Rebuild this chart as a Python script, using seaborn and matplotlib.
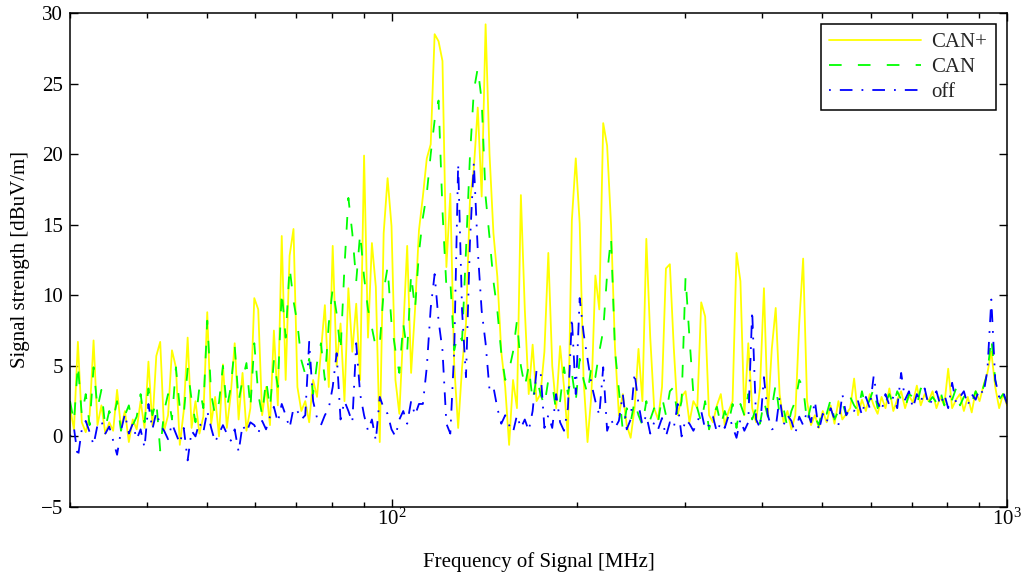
import numpy as np
import pandas as pd
import matplotlib
matplotlib.use("Agg")
import matplotlib.pyplot as plt
from matplotlib.ticker import LogLocator, NullFormatter, MultipleLocator
import seaborn as sns

# Frequency sweep, 30 MHz .. 1 GHz, 240 log-spaced points
freq_mhz = np.geomspace(30, 1000, 240)

# Field strength with CAN bus active and terminated ("CAN+")
can_plus = [
    2.0, 0.5, 6.7, 1.0, 0.3, 1.5, 6.8, 0.8, 2.2, 0.2, 1.0, 0.4, 3.3, 0.6, 1.8, -0.4, 1.2, 0.5, 2.5, 0.6,
    5.3, 0.8, 5.7, 6.7, 0.4, 1.5, 6.1, 4.9, -0.6, 1.8, 7.0, 0.6, 2.5, 0.2, 1.4, 8.8, 0.9, 2.8, 0.0, 5.1,
    0.6, 3.0, 6.6, 1.2, 4.5, 0.4, 2.0, 9.8, 9.0, 1.5, 3.5, 0.8, 7.5, 2.2, 14.2, 4.0, 12.8, 14.7, 3.5, 1.8,
    2.5, 1.0, 4.0, 2.8, 6.0, 9.3, 3.5, 13.5, 5.0, 8.0, 2.5, 10.5, 6.0, 9.4, 4.0, 19.9, 7.0, 13.7, 10.6, -0.4,
    14.4, 18.3, 14.9, 4.0, 1.6, 7.5, 13.5, 4.5, 9.0, 14.6, 17.0, 19.7, 20.7, 28.5, 28.0, 26.6, 12.0, 17.2, 5.0, 0.6,
    4.9, 8.0, 16.7, 19.0, 23.3, 17.0, 29.2, 20.0, 14.4, 11.3, 6.0, 3.5, -0.6, 4.0, 2.0, 17.1, 9.0, 3.0, 6.5, 2.5,
    3.0, 6.0, 13.0, 5.0, 2.0, 6.4, 3.5, -0.1, 15.3, 19.7, 15.1, 4.0, -0.4, 3.0, 11.4, 9.0, 22.2, 20.6, 15.0, 6.3,
    1.5, 3.0, 0.8, -0.1, 2.0, 6.2, 2.5, 14.0, 7.0, 2.0, 1.2, 3.5, 11.9, 12.2, 6.3, 1.5, 2.8, 3.2, 1.0, 2.5,
    2.0, 9.5, 8.5, 1.5, 1.0, 2.2, 3.0, 0.8, 1.8, 2.5, 13.0, 11.0, 1.5, 6.6, 2.0, 1.0, 3.5, 10.5, 1.5, 6.2,
    9.1, 3.0, 1.0, 1.8, 0.5, 1.5, 8.0, 12.6, 2.5, 0.8, 1.5, 0.6, 1.8, 1.0, 2.2, 0.9, 2.5, 1.2, 1.6, 2.0,
    4.1, 1.5, 2.6, 1.8, 3.0, 2.2, 1.6, 2.8, 2.0, 3.4, 1.8, 2.6, 3.2, 2.0, 2.9, 2.4, 3.6, 2.2, 3.0, 2.5,
    3.2, 2.0, 2.8, 2.2, 4.8, 2.0, 2.6, 3.0, 1.8, 2.8, 1.7, 3.2, 2.5, 3.6, 4.5, 6.0, 3.5, 2.0, 3.0, 2.2,
]

# Field strength with CAN bus active ("CAN")
can = [
    2.5, 1.0, 5.1, 1.5, 3.0, 0.8, 4.9, 2.0, 3.3, 0.6, 1.8, 1.2, 2.5, 0.4, 1.5, 2.2, 0.8, 1.4, 3.0, 1.0,
    3.4, 1.5, 2.5, -1.0, 1.8, 3.0, 1.2, 4.9, 2.0, 1.5, 4.8, 2.6, 1.0, 3.5, 2.0, 8.2, 3.0, 1.5, 2.4, 5.0,
    2.0, 3.5, 6.4, 2.5, 4.0, 5.2, 2.0, 6.6, 3.0, 1.5, 4.0, 2.0, 5.4, 3.5, 10.3, 7.0, 12.0, 9.6, 8.0, 5.4,
    4.4, 5.5, 3.0, 5.2, 6.6, 4.0, 8.0, 10.5, 8.7, 6.0, 12.0, 16.9, 14.4, 11.0, 14.4, 11.3, 9.0, 7.7, 6.3, 6.5,
    10.3, 12.0, 8.0, 6.1, 4.5, 8.0, 6.0, 11.5, 9.0, 13.0, 15.5, 17.2, 20.0, 22.4, 23.8, 16.0, 10.6, 11.0, 6.1, 7.3,
    6.8, 13.2, 19.8, 24.5, 26.1, 23.8, 17.0, 14.1, 11.0, 8.9, 5.9, 4.0, 4.7, 6.0, 8.2, 5.0, 3.5, 5.0, 2.5, 4.2,
    3.0, 2.2, 4.0, 3.7, 1.8, 2.5, 4.9, 3.0, 4.5, 2.5, 5.5, 4.0, 3.0, 5.0, 4.2, 6.0, 7.5, 11.5, 14.1, 6.1,
    3.3, 0.4, 2.0, 1.0, 2.5, 1.5, 0.8, 2.5, 1.2, 2.0, 1.0, 2.8, 1.5, 3.2, 3.5, 1.3, 2.5, 11.3, 7.0, 3.0,
    2.0, 1.0, 2.5, 0.5, 1.5, 2.1, 0.8, 1.8, 1.0, 2.3, 0.6, 2.3, 1.5, 3.0, 1.2, 2.0, 0.9, 2.5, 1.4, 2.0,
    3.7, 1.5, 2.0, 0.6, 1.8, 2.5, 4.0, 3.5, 1.0, 2.2, 1.4, 0.8, 2.0, 1.6, 2.6, 1.2, 1.8, 2.4, 1.5, 2.8,
    2.2, 1.8, 3.2, 2.0, 2.6, 3.4, 2.0, 2.8, 2.4, 3.0, 2.2, 3.2, 2.6, 2.0, 3.0, 2.8, 2.2, 3.4, 2.6, 2.4,
    2.8, 2.4, 3.2, 2.2, 3.0, 2.6, 3.4, 2.2, 2.8, 3.0, 2.4, 3.2, 2.6, 3.5, 4.5, 7.0, 4.0, 2.6, 3.0, 2.4,
]

# Ambient field strength with the bus switched off ("off")
off = [
    0.0, 0.6, -1.5, 0.5, 1.1, 0.3, -0.6, 0.8, 1.1, 0.2, 0.7, -0.3, -1.3, 0.4, 1.6, 0.2, 0.9, -0.2, 0.5, -0.8,
    2.3, 0.5, 1.7, 0.8, 0.4, -0.2, 0.9, 0.2, -0.5, 0.6, -1.7, 0.4, 0.0, 1.0, 0.3, 1.8, 0.6, -0.4, 0.2, 0.8,
    0.2, -0.3, 0.5, -1.1, 0.8, 0.3, 1.0, 0.8, 0.2, 1.1, 0.5, 1.4, 2.1, 1.0, 2.3, 1.5, 0.6, 2.0, 1.8, 1.2,
    1.5, 6.7, 2.5, 1.3, 0.8, 1.5, 2.0, 3.5, 5.9, 1.2, 2.5, 1.8, 1.0, 6.6, 3.0, 1.5, 0.4, 1.2, -0.3, 2.8,
    2.0, 1.6, 0.5, 0.0, 1.2, 1.8, 0.9, 2.5, 1.5, 2.3, 2.3, 4.9, 9.1, 11.5, 8.2, 6.1, 0.9, 0.2, 6.1, 19.3,
    8.9, 4.2, 13.7, 19.4, 13.2, 8.9, 6.6, 3.3, 3.5, 2.0, 0.9, 1.5, 0.8, 0.3, 1.5, 0.6, 1.2, 0.4, 1.8, 4.7,
    4.7, 0.6, 1.5, 0.6, 3.0, 1.0, 0.4, 2.0, 8.4, 3.0, 9.8, 7.3, 5.5, 3.7, 2.5, 1.5, 4.9, 0.4, 1.2, 0.6,
    1.1, 3.0, 0.5, 1.2, 4.5, 2.3, 0.8, 1.5, 0.2, 1.0, 0.5, 1.3, 0.0, 1.0, 0.6, 2.3, 0.0, 1.2, 0.9, 0.4,
    1.0, 1.8, 0.5, 0.8, 1.4, 0.3, 1.0, 0.6, 1.5, 0.7, -0.1, 1.2, 0.4, 1.0, 8.9, 1.2, 0.6, 4.2, 1.5, 0.5,
    0.6, 2.8, 0.8, 1.5, 1.1, 0.2, 1.4, 0.8, 1.8, 1.0, 2.5, 0.4, 1.6, 1.0, 2.0, 1.2, 0.8, 3.0, 1.5, 2.0,
    1.8, 2.5, 1.5, 2.8, 2.0, 4.3, 2.4, 1.8, 3.0, 2.2, 2.8, 2.0, 4.5, 2.6, 3.2, 2.0, 3.0, 2.4, 3.4, 2.2,
    2.6, 3.2, 2.2, 3.0, 2.0, 3.8, 2.4, 2.8, 3.2, 2.2, 3.0, 2.6, 3.4, 3.0, 4.7, 9.7, 4.0, 2.8, 3.2, 2.3,
]

series_labels = ["CAN+", "CAN", "off"]
series_colors = ["#FFFF00", "#00FF00", "#0000FF"]
series_styles = ["-", (0, (7, 9)), (0, (1, 5, 7, 5))]

sns.set_theme(style="white")
plt.rcParams["font.family"] = ["Liberation Serif", "DejaVu Serif"]
plt.rcParams["mathtext.fontset"] = "custom"
plt.rcParams["mathtext.rm"] = "Liberation Serif"

FS = 15

df = pd.DataFrame({"freq": freq_mhz, "CAN+": can_plus, "CAN": can, "off": off})

fig = plt.figure(figsize=(10.24, 5.79), dpi=100)
ax = fig.add_axes([0.0684, 0.1244, 0.9150, 0.8531])

for label, color, ls in zip(series_labels, series_colors, series_styles):
    sns.lineplot(data=df, x="freq", y=label, ax=ax, color=color,
                 linestyle=ls, linewidth=1.3, label=label, sort=False)

ax.set_xscale("log")
ax.set_xlim(30, 1000)
ax.set_ylim(-5, 30)
ax.yaxis.set_major_locator(MultipleLocator(5))
ax.xaxis.set_major_locator(LogLocator(base=10))
ax.xaxis.set_minor_locator(LogLocator(base=10, subs=np.arange(2, 10)))
ax.xaxis.set_minor_formatter(NullFormatter())

ax.tick_params(which="both", direction="in", top=True, right=True,
               bottom=True, left=True, colors="black", labelsize=FS)
ax.tick_params(which="major", length=6, width=1.0)
ax.tick_params(axis="y", which="major", pad=5)
ax.tick_params(axis="x", which="major", pad=1)
ax.tick_params(which="minor", length=3.5, width=1.0)
for sp in ax.spines.values():
    sp.set_color("black")
    sp.set_linewidth(1.1)

ax.set_xlabel("Frequency of Signal [MHz]", fontsize=FS, color="black", labelpad=16)
ax.set_ylabel("Signal strength [dBuV/m]", fontsize=FS, color="black", labelpad=8)

leg = ax.legend(loc="upper right", fontsize=FS, handlelength=4.4,
                borderaxespad=0.55, frameon=True, fancybox=False,
                framealpha=1, edgecolor="black", labelspacing=0.25,
                borderpad=0.4, handletextpad=0.5)
leg.get_frame().set_linewidth(1.1)

fig.savefig("out.png", dpi=100)
